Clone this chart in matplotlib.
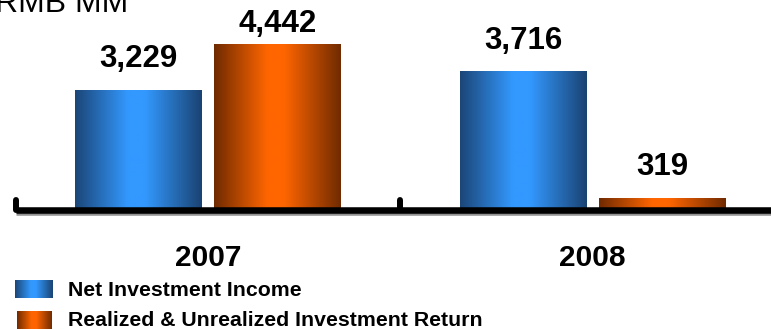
import numpy as np
import matplotlib.pyplot as plt
from matplotlib.colors import LinearSegmentedColormap
from matplotlib import patheffects

plt.rcParams['font.family'] = ['Liberation Sans', 'DejaVu Sans']

years = ['2007', '2008']
net_income = [3229, 3716]
invest_return = [4442, 319]
series_names = ['Net Investment Income', 'Realized & Unrealized Investment Return']

# cylinder-like shading: dark edges, bright middle
blue_cmap = LinearSegmentedColormap.from_list(
    'blue_tube', [(0, '#1b4677'), (0.42, '#3399ff'), (0.55, '#3399ff'), (1, '#1a4372')])
orange_cmap = LinearSegmentedColormap.from_list(
    'orange_tube', [(0, '#6f2a00'), (0.42, '#ff6600'), (0.55, '#ff6600'), (1, '#702b00')])
grad = np.linspace(0, 1, 256).reshape(1, -1)


def shade(ax, patch, cmap):
    x, y = patch.get_x(), patch.get_y()
    w, h = patch.get_width(), patch.get_height()
    ax.imshow(grad, cmap=cmap, aspect='auto', extent=[x, x + w, y, y + h],
              interpolation='bicubic', zorder=2)


fig = plt.figure(figsize=(7.71, 3.30), dpi=100)
ax = fig.add_axes([0, 0, 1, 1])
ax.set_axis_off()

xs = np.arange(len(years))
width = 0.33
off = 0.1805

bars1 = ax.bar(xs - off, net_income, width, color='none', zorder=1)
bars2 = ax.bar(xs + off, invest_return, width, color='none', zorder=1)
for p in bars1:
    shade(ax, p, blue_cmap)
for p in bars2:
    shade(ax, p, orange_cmap)

ax.set_xlim(-0.541, 1.464)
ax.set_ylim(-3230, 5653)

# value labels above the bars
top = max(net_income + invest_return)
for bars, vals in ((bars1, net_income), (bars2, invest_return)):
    for p, v in zip(bars, vals):
        gap = 21 if v == top else 31
        ax.annotate(f'{v:,}', (p.get_x() + p.get_width() / 2, v),
                    xytext=(0, gap * 0.72), textcoords='offset points',
                    ha='center', va='center', fontsize=22.5, fontweight='bold')

# thick base line with small separators between the years
ax.plot([-0.5, 1.6], [0, 0], color='black', lw=4.7, solid_capstyle='butt', zorder=3,
        clip_on=False,
        path_effects=[patheffects.SimpleLineShadow(offset=(0, -1.2), shadow_color='#777777', alpha=0.8),
                      patheffects.Normal()])
for t in (-0.5, 0.5):
    ax.plot([t, t], [0, 270], color='black', lw=4.3, solid_capstyle='round', zorder=3)

for x, yr in zip(xs, years):
    ax.annotate(yr, (x, 0), xytext=(0, -48 * 0.72), textcoords='offset points',
                ha='center', va='center', fontsize=21.5, fontweight='bold')

fig.text(-0.006, 1 - 12 / 330, 'RMB MM', fontsize=23, ha='left', va='baseline')

# legend with shaded swatches
swatches = [([15, 280, 37, 18], blue_cmap), ([17, 311, 35, 18], orange_cmap)]
for (sx, sy, sw, sh), cmap in swatches:
    sax = fig.add_axes([sx / 771, (330 - sy - sh) / 330, sw / 771, sh / 330])
    sax.imshow(grad, cmap=cmap, aspect='auto', interpolation='bicubic')
    sax.set_axis_off()
for name, cy in zip(series_names, (290, 321)):
    fig.text(68 / 771, (330 - cy) / 330, name, fontsize=15.3, fontweight='bold',
             ha='left', va='center')

fig.savefig('out.png', dpi=100)
